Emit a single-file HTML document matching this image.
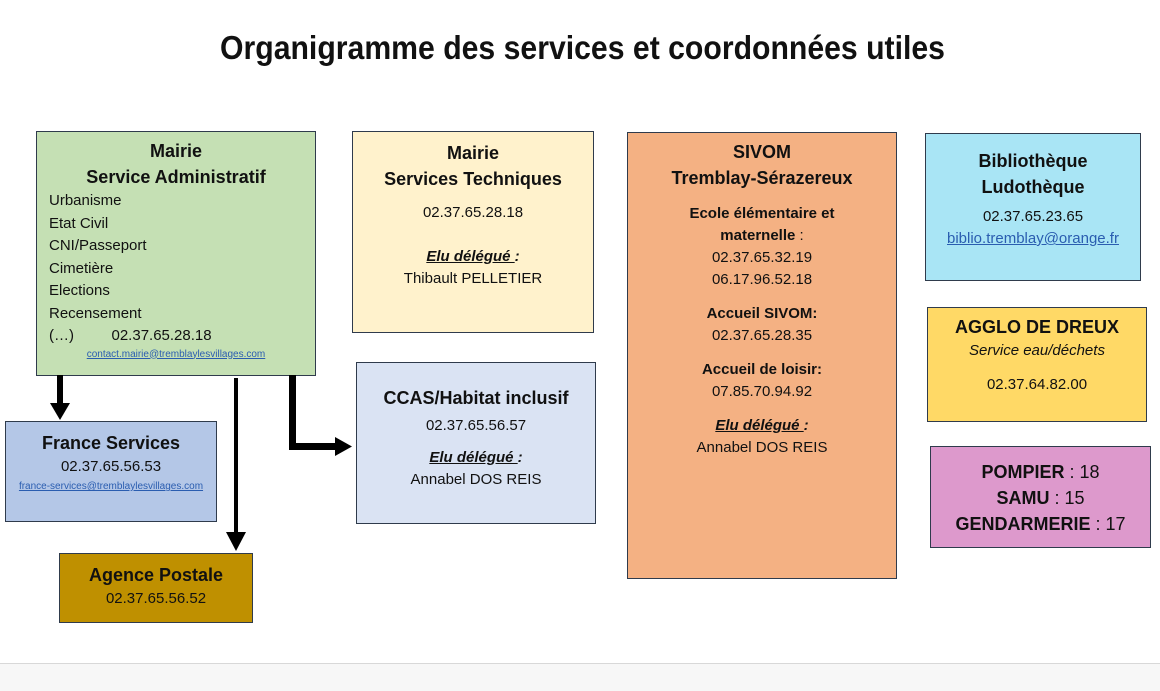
<!DOCTYPE html>
<html><head><meta charset="utf-8"><style>
body{margin:0;width:1160px;height:691px;background:#fff;position:relative;overflow:hidden;font-family:"Liberation Sans",sans-serif;color:#111}
.b{position:absolute;border:1px solid #2f3b4c;box-sizing:border-box;text-align:center;font-size:15px;line-height:22px}
.t{font-weight:bold;font-size:18px;line-height:26px}
a{color:#2a5db0;text-decoration:underline}
.e{font-weight:bold;font-style:italic;text-decoration:underline}
h1{position:absolute;top:29px;left:0;width:1165px;text-align:center;margin:0;font-size:33px;font-weight:bold;transform:scaleX(0.915)}
</style></head><body>
<h1>Organigramme des services et coordonnées utiles</h1>

<div class="b" style="left:36px;top:131px;width:280px;height:245px;background:#c5e0b4;padding-top:6px">
<div class="t" style="line-height:26px">Mairie<br>Service Administratif</div>
<div style="text-align:left;padding-left:12px;line-height:22.5px">Urbanisme<br>Etat Civil<br>CNI/Passeport<br>Cimetière<br>Elections<br>Recensement<br>(…)&nbsp;&nbsp;&nbsp;&nbsp;&nbsp;&nbsp;&nbsp;&nbsp;&nbsp;02.37.65.28.18</div>
<div style="font-size:10px;line-height:14px"><a>contact.mairie@tremblaylesvillages.com</a></div>
</div>

<div class="b" style="left:352px;top:131px;width:242px;height:202px;background:#fff2cc;padding-top:8px">
<div class="t">Mairie<br>Services Techniques</div>
<div style="margin-top:10px">02.37.65.28.18</div>
<div style="margin-top:22px"><span class="e">Elu délégué </span><i><b>:</b></i></div>
<div>Thibault PELLETIER</div>
</div>

<div class="b" style="left:627px;top:132px;width:270px;height:447px;background:#f4b183;padding-top:6px">
<div class="t">SIVOM<br>Tremblay-Sérazereux</div>
<div style="margin-top:12px"><b>Ecole élémentaire et<br>maternelle</b> :<br>02.37.65.32.19<br>06.17.96.52.18</div>
<div style="margin-top:12px"><b>Accueil SIVOM:</b><br>02.37.65.28.35</div>
<div style="margin-top:12px"><b>Accueil de loisir:</b><br>07.85.70.94.92</div>
<div style="margin-top:12px"><span class="e">Elu délégué </span><i><b>:</b></i><br>Annabel DOS REIS</div>
</div>

<div class="b" style="left:925px;top:133px;width:216px;height:148px;background:#a9e5f5;padding-top:14px">
<div class="t">Bibliothèque<br>Ludothèque</div>
<div style="margin-top:6px">02.37.65.23.65<br><a>biblio.tremblay@orange.fr</a></div>
</div>

<div class="b" style="left:927px;top:307px;width:220px;height:115px;background:#ffd966;padding-top:6px">
<div class="t">AGGLO DE DREUX</div>
<div><i>Service eau/déchets</i></div>
<div style="margin-top:12px">02.37.64.82.00</div>
</div>

<div class="b" style="left:930px;top:446px;width:221px;height:102px;background:#dd99cc;padding-top:12px;font-size:18px;line-height:26px">
<b>POMPIER</b> : 18<br><b>SAMU</b> : 15<br><b>GENDARMERIE</b> : 17
</div>

<div class="b" style="left:356px;top:362px;width:240px;height:162px;background:#dae3f3;padding-top:22px">
<div class="t">CCAS/Habitat inclusif</div>
<div style="margin-top:4px">02.37.65.56.57</div>
<div style="margin-top:10px"><span class="e">Elu délégué </span><i><b>:</b></i><br>Annabel DOS REIS</div>
</div>

<div class="b" style="left:5px;top:421px;width:212px;height:101px;background:#b4c7e7;padding-top:8px">
<div class="t">France Services</div>
<div>02.37.65.56.53</div>
<div style="font-size:10px;line-height:18px"><a>france-services@tremblaylesvillages.com</a></div>
</div>

<div class="b" style="left:59px;top:553px;width:194px;height:70px;background:#bf9000;padding-top:8px">
<div class="t">Agence Postale</div>
<div>02.37.65.56.52</div>
</div>

<svg style="position:absolute;left:0;top:0" width="1160" height="691">
<g fill="#000">
<rect x="57" y="375" width="6" height="30"/><polygon points="50,403 70,403 60,420"/>
<rect x="234" y="378" width="4" height="156"/><polygon points="226,532 246,532 236,551"/>
<rect x="289" y="375" width="7" height="75"/><rect x="289" y="443" width="48" height="7"/><polygon points="335,437 335,456 352,446.5"/>
</g>
<rect x="0" y="663" width="1160" height="28" fill="#f7f7f7"/>
<line x1="0" y1="663.5" x2="1160" y2="663.5" stroke="#d8d8d8"/>
</svg>
</body></html>
